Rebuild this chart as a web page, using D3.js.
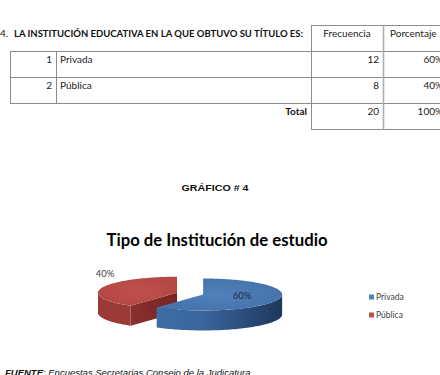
<!DOCTYPE html>
<html>
<head>
<meta charset="utf-8">
<script src="https://cdn.jsdelivr.net/npm/d3@7"></script>
<style>
  body { margin: 0; background: #fff; }
</style>
</head>
<body>
<div id="vis"></div>
<script>
// Data
let categories = ["Privada", "Pública"];
let frequencies = [12, 8];
let percentages = [60, 40];
let totalFreq = 20;
let totalPct = 100;
let explode = [7.5, 20];

let width = 440,
    height = 375;

let svg = d3.select('#vis')
  .append('svg')
  .attr('width', width)
  .attr('height', height)
  .style('background', '#fff');

let tableFont = 'Lato, "Open Sans", sans-serif';
let lineColor = '#8c8c8c';

// ---- Table ----
let tbl = svg.append('g');
let hLine = (x1, x2, y) => tbl.append('line').attr('x1', x1).attr('x2', x2).attr('y1', y).attr('y2', y)
  .attr('stroke', lineColor).attr('stroke-width', 1);
let vLine = (x, y1, y2) => tbl.append('line').attr('x1', x).attr('x2', x).attr('y1', y1).attr('y2', y2)
  .attr('stroke', lineColor).attr('stroke-width', 1);

let rowTop = [51.5, 77.5];
hLine(311, 440, 25.5);
hLine(10, 440, 51.5);
hLine(10, 440, 77.5);
hLine(10, 440, 103.5);
hLine(311, 440, 129.5);
vLine(10.5, 51.5, 103.5);
vLine(56.5, 51.5, 103.5);
vLine(311.5, 25.5, 129.5);
tbl.append('line').attr('x1', 383.5).attr('x2', 383.5).attr('y1', 25.5).attr('y2', 129.5)
  .attr('stroke', '#b0b0b0').attr('stroke-width', 1.6);

let fs = '10px';
tbl.append('text').attr('x', 0).attr('y', 37).text('4.')
  .style('font-family', tableFont).style('font-size', fs).attr('fill', '#111');
tbl.append('text').attr('x', 14).attr('y', 37)
  .text('LA INSTITUCIÓN EDUCATIVA EN LA QUE OBTUVO SU TÍTULO ES:')
  .attr('textLength', 289).attr('lengthAdjust', 'spacingAndGlyphs')
  .style('font-family', tableFont).style('font-weight', 'bold').style('font-size', fs).attr('fill', '#111');
tbl.append('text').attr('x', 347).attr('y', 37).text('Frecuencia').attr('text-anchor', 'middle')
  .style('font-family', tableFont).style('font-size', fs).attr('fill', '#222');
tbl.append('text').attr('x', 390).attr('y', 37).text('Porcentaje')
  .style('font-family', tableFont).style('font-size', fs).attr('fill', '#222');

categories.forEach((c, i) => {
  let y = rowTop[i] + 11.5;
  tbl.append('text').attr('x', 52).attr('y', y).text(i + 1).attr('text-anchor', 'end')
    .style('font-family', tableFont).style('font-size', fs).attr('fill', '#222');
  tbl.append('text').attr('x', 60).attr('y', y).text(c)
    .style('font-family', tableFont).style('font-size', fs).attr('fill', '#222');
  tbl.append('text').attr('x', 379).attr('y', y).text(frequencies[i]).attr('text-anchor', 'end')
    .style('font-family', tableFont).style('font-size', fs).attr('fill', '#222');
  tbl.append('text').attr('x', 443).attr('y', y).text(percentages[i] + '%').attr('text-anchor', 'end')
    .style('font-family', tableFont).style('font-size', fs).attr('fill', '#222');
});
tbl.append('text').attr('x', 307).attr('y', 114.5).text('Total').attr('text-anchor', 'end')
  .style('font-family', tableFont).style('font-weight', 'bold').style('font-size', fs).attr('fill', '#111');
tbl.append('text').attr('x', 379).attr('y', 114.5).text(totalFreq).attr('text-anchor', 'end')
  .style('font-family', tableFont).style('font-size', fs).attr('fill', '#222');
tbl.append('text').attr('x', 443).attr('y', 114.5).text(totalPct + '%').attr('text-anchor', 'end')
  .style('font-family', tableFont).style('font-size', fs).attr('fill', '#222');

// ---- Headings ----
svg.append('text').attr('x', 215).attr('y', 190.5).text('GRÁFICO # 4').attr('text-anchor', 'middle')
  .attr('textLength', 67).attr('lengthAdjust', 'spacingAndGlyphs')
  .style('font-family', '"Liberation Sans", Arial, sans-serif').style('font-weight', 'bold')
  .style('font-size', '9.5px').attr('fill', '#111');

svg.append('text').attr('x', 217).attr('y', 246).text('Tipo de Institución de estudio')
  .attr('text-anchor', 'middle').attr('textLength', 221).attr('lengthAdjust', 'spacingAndGlyphs')
  .style('font-family', tableFont).style('font-weight', 'bold').style('font-size', '16.5px').attr('fill', '#000');

// ---- 3D pie ----
let cx = 196, cy = 294, rx = 79, ry = 16, depth = 20;
let ky = ry / rx;

let defs = svg.append('defs');
let blueSide = defs.append('linearGradient').attr('id', 'blueSide')
  .attr('gradientUnits', 'userSpaceOnUse').attr('x1', cx - rx).attr('x2', cx + rx + 10).attr('y1', 0).attr('y2', 0);
blueSide.append('stop').attr('offset', 0).attr('stop-color', '#4272ad');
blueSide.append('stop').attr('offset', 0.5).attr('stop-color', '#3a669e');
blueSide.append('stop').attr('offset', 1).attr('stop-color', '#1d365a');
let blueTop = defs.append('radialGradient').attr('id', 'blueTop');
blueTop.append('stop').attr('offset', 0).attr('stop-color', '#5080ba');
blueTop.append('stop').attr('offset', 1).attr('stop-color', '#4674ad');
let redTop = defs.append('radialGradient').attr('id', 'redTop');
redTop.append('stop').attr('offset', 0).attr('stop-color', '#c0504d');
redTop.append('stop').attr('offset', 1).attr('stop-color', '#b44845');
let redWall = defs.append('linearGradient').attr('id', 'redWall');
redWall.append('stop').attr('offset', 0).attr('stop-color', '#8a2f2d');
redWall.append('stop').attr('offset', 1).attr('stop-color', '#742624');

let fills = [
  { top: 'url(#blueTop)', side: 'url(#blueSide)', wall: '#2e5386' },
  { top: 'url(#redTop)', side: '#9c3a37', wall: 'url(#redWall)' }
];

let pieData = categories.map((c, i) => ({ category: c, value: frequencies[i], pct: percentages[i], i: i }));
let arcs = d3.pie().sort(null).value(d => d.value).startAngle(0).endAngle(2 * Math.PI)(pieData);

let line = d3.line();
function pt(c, a, r, dy) {
  return [c[0] + r * Math.sin(a), c[1] - r * ky * Math.cos(a) + (dy || 0)];
}
function rimPts(c, a0, a1, dy) {
  let n = Math.max(2, Math.ceil((a1 - a0) / 0.03));
  return d3.range(n + 1).map(k => pt(c, a0 + (a1 - a0) * k / n, rx, dy));
}

let pieG = svg.append('g');
// draw red (back/left) first, then blue
[arcs[1], arcs[0]].forEach(a => {
  let mid = (a.startAngle + a.endAngle) / 2;
  let e = explode[a.data.i];
  let c = [cx + e * Math.sin(mid), cy - e * ky * Math.cos(mid)];
  let f = fills[a.data.i];
  let g = pieG.append('g');

  // radial cut faces facing the viewer
  [[a.startAngle, -1], [a.endAngle, 1]].forEach(([ang, s]) => {
    if (s * Math.sin(ang) > 0.01) {
      let p = [c, pt(c, ang, rx), pt(c, ang, rx, depth), [c[0], c[1] + depth]];
      g.append('path').attr('d', line(p) + 'Z').attr('fill', f.wall);
    }
  });

  // outer rim, front half only
  let r0 = Math.max(a.startAngle, Math.PI / 2), r1 = Math.min(a.endAngle, 3 * Math.PI / 2);
  if (r1 > r0) {
    let p = rimPts(c, r0, r1, 0).concat(rimPts(c, r0, r1, depth).reverse());
    g.append('path').attr('d', line(p) + 'Z').attr('fill', f.side);
  }

  // top face
  let top = [c].concat(rimPts(c, a.startAngle, a.endAngle, 0));
  g.append('path').attr('d', line(top) + 'Z').attr('fill', f.top);
});

// data labels
svg.append('text').attr('x', 242).attr('y', 299).text(percentages[0] + '%').attr('text-anchor', 'middle')
  .style('font-family', tableFont).style('font-size', '9.5px').attr('fill', '#1b2b45');
svg.append('text').attr('x', 105).attr('y', 277).text(percentages[1] + '%').attr('text-anchor', 'middle')
  .style('font-family', tableFont).style('font-size', '9.5px').attr('fill', '#404040');

// legend
let legendColors = ['#4f81bd', '#c0504d'];
let leg = svg.append('g');
categories.forEach((c, i) => {
  let y = 297 + i * 18;
  leg.append('rect').attr('x', 369).attr('y', y - 2.5).attr('width', 5).attr('height', 5).attr('fill', legendColors[i]);
  leg.append('text').attr('x', 376).attr('y', y + 3).text(c)
    .style('font-family', tableFont).style('font-size', '8.5px').attr('fill', '#404040');
});

// source note
let src = svg.append('text').attr('x', 5).attr('y', 376)
  .style('font-family', '"Liberation Sans", Arial, sans-serif').style('font-size', '9.5px')
  .style('font-style', 'italic').attr('fill', '#111');
src.append('tspan').style('font-weight', 'bold').text('FUENTE');
src.append('tspan').text(': Encuestas Secretarias Consejo de la Judicatura');
</script>
</body>
</html>
